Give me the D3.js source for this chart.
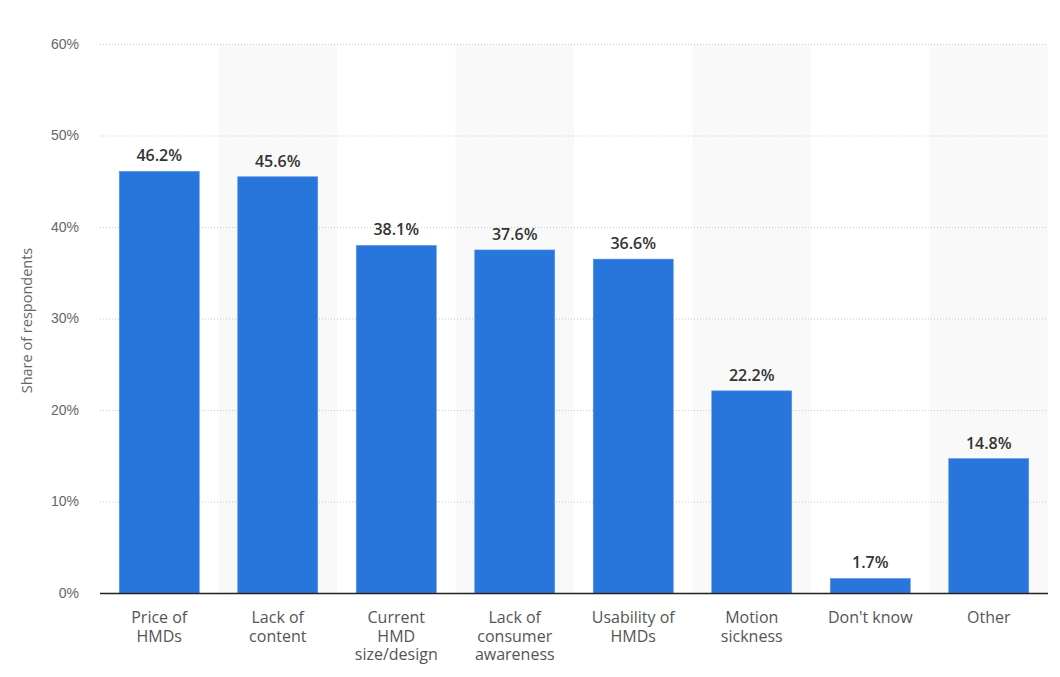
<!DOCTYPE html>
<html>
<head>
<meta charset="utf-8">
<script src="https://cdn.jsdelivr.net/npm/d3@7"></script>
<style>
  body { margin: 0; background: #fff; }
  svg { font-family: "Open Sans", "DejaVu Sans", sans-serif; }
</style>
</head>
<body>
<div id="chart"></div>
<script>
// Data
const categories = [
    ["Price of", "HMDs"],
    ["Lack of", "content"],
    ["Current", "HMD", "size/design"],
    ["Lack of", "consumer", "awareness"],
    ["Usability of", "HMDs"],
    ["Motion", "sickness"],
    ["Don't know"],
    ["Other"]
];
const values = [46.2, 45.6, 38.1, 37.6, 36.6, 22.2, 1.7, 14.8];
const yTicks = [0, 10, 20, 30, 40, 50, 60];

const width = 1060, height = 677;
const margin = { top: 44, right: 12, bottom: 84, left: 100 };

const svg = d3.select('#chart')
    .append('svg')
    .attr('width', width)
    .attr('height', height);

const x = d3.scaleBand()
    .domain(d3.range(values.length))
    .range([margin.left, width - margin.right])
    .paddingInner(0)
    .paddingOuter(0);

const y = d3.scaleLinear()
    .domain([0, 60])
    .range([height - margin.bottom, margin.top]);

// Alternating background bands
svg.append('g')
    .selectAll('rect')
    .data(d3.range(values.length).filter(i => i % 2 === 1))
    .enter()
    .append('rect')
    .attr('x', i => x(i))
    .attr('y', y(60))
    .attr('width', x.bandwidth())
    .attr('height', y(0) - y(60))
    .attr('fill', '#f9f9f9');

// Gridlines
svg.append('g')
    .selectAll('line')
    .data(yTicks.filter(t => t > 0))
    .enter()
    .append('line')
    .attr('x1', margin.left)
    .attr('x2', width - margin.right)
    .attr('y1', d => y(d) + 0.5)
    .attr('y2', d => y(d) + 0.5)
    .attr('stroke', '#c8c8c8')
    .attr('stroke-dasharray', '1,2');

// Y axis labels
const yAxis = d3.axisLeft(y)
    .tickValues(yTicks)
    .tickFormat(d => d + '%')
    .tickSize(0)
    .tickPadding(21);

svg.append('g')
    .attr('transform', `translate(${margin.left},0)`)
    .call(yAxis)
    .call(g => g.select('.domain').remove())
    .call(g => g.selectAll('text')
        .attr('fill', '#666')
        .style('font-size', '14px'));

// Y axis title
svg.append('text')
    .attr('transform', `translate(32,${(y(0) + y(60)) / 2 + 2}) rotate(-90)`)
    .attr('text-anchor', 'middle')
    .attr('fill', '#666')
    .style('font-size', '14.5px')
    .text('Share of respondents');

// Bars
const barW = 80;
svg.append('g')
    .selectAll('rect')
    .data(values)
    .enter()
    .append('rect')
    .attr('x', (d, i) => x(i) + (x.bandwidth() - barW) / 2)
    .attr('y', d => y(d) + 1)
    .attr('width', barW)
    .attr('height', d => y(0) - y(d) - 1)
    .attr('fill', '#2875dc')
    .attr('stroke', '#5a95e4')
    .attr('stroke-width', 0.6);

// Value labels
svg.append('g')
    .selectAll('text')
    .data(values)
    .enter()
    .append('text')
    .attr('x', (d, i) => x(i) + x.bandwidth() / 2)
    .attr('y', d => y(d) - 9)
    .attr('text-anchor', 'middle')
    .attr('fill', '#333')
    .style('font-size', '16px')
    .style('font-weight', '600')
    .text(d => d.toFixed(1) + '%');

// Baseline axis
svg.append('line')
    .attr('x1', margin.left)
    .attr('x2', width - margin.right)
    .attr('y1', y(0) + 0.5)
    .attr('y2', y(0) + 0.5)
    .attr('stroke', '#222')
    .attr('stroke-width', 1.5);

// Category labels
const catLabel = svg.append('g')
    .selectAll('text')
    .data(categories)
    .enter()
    .append('text')
    .attr('x', (d, i) => x(i) + x.bandwidth() / 2)
    .attr('y', y(0) + 30)
    .attr('text-anchor', 'middle')
    .attr('fill', '#555')
    .style('font-size', '16px');

catLabel.selectAll('tspan')
    .data(d => d)
    .enter()
    .append('tspan')
    .attr('x', function () { return this.parentNode.getAttribute('x'); })
    .attr('dy', (d, i) => i === 0 ? 0 : 18.5)
    .text(d => d);
</script>
</body>
</html>
